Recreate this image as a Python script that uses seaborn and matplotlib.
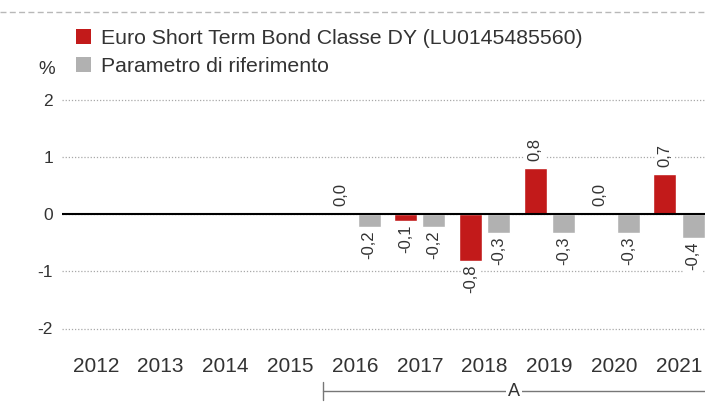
import numpy as np
import pandas as pd
import matplotlib
matplotlib.use("Agg")
import matplotlib.pyplot as plt
import seaborn as sns
from matplotlib.patches import Patch
from matplotlib.lines import Line2D
from matplotlib.transforms import blended_transform_factory

# ---- data ----
years = ["2012", "2013", "2014", "2015", "2016", "2017", "2018", "2019", "2020", "2021"]
fund_name = "Euro Short Term Bond Classe DY (LU0145485560)"
bench_name = "Parametro di riferimento"
fund_values = [np.nan, np.nan, np.nan, np.nan, 0.01, -0.12, -0.82, 0.81, 0.01, 0.70]
bench_values = [np.nan, np.nan, np.nan, np.nan, -0.22, -0.22, -0.33, -0.33, -0.33, -0.42]
y_ticks = [-2, -1, 0, 1, 2]
y_tick_labels = ["-2", "-1", "0", "1", "2"]
period_label = "A"

RED = "#C21A1A"
GREY = "#B1B1B1"
TEXT = "#333333"

df = pd.DataFrame({
    "year": years * 2,
    "value": fund_values + bench_values,
    "series": [fund_name] * len(years) + [bench_name] * len(years),
}).dropna()

sns.set_style("white")
plt.rcParams["font.family"] = ["Liberation Sans", "DejaVu Sans"]
plt.rcParams["axes.unicode_minus"] = False

W, H = 705, 403
fig = plt.figure(figsize=(W / 100, H / 100), dpi=100)

# axes geometry in pixels
ax_left, ax_right = 62, 705
ax_top, ax_bottom = 85, 343
ax = fig.add_axes([ax_left / W, (H - ax_bottom) / H, (ax_right - ax_left) / W, (ax_bottom - ax_top) / H])

sns.barplot(data=df, x="year", y="value", hue="series", order=years,
            hue_order=[fund_name, bench_name], palette=[RED, GREY],
            width=0.87, gap=0.18, ax=ax, legend=False, saturation=1, errorbar=None)

x0, step = 95.8, 64.8
ax.set_xlim((ax_left - x0) / step, (ax_right - x0) / step)
ax.set_ylim(-(ax_bottom - 214) / 57.25, (214 - ax_top) / 57.25)

ax.set_yticks(y_ticks)
ax.set_yticklabels(y_tick_labels)
ax.tick_params(axis="y", length=0, pad=6.5, labelsize=12.5, labelcolor=TEXT)
ax.tick_params(axis="x", length=0, pad=10, labelsize=15, labelcolor=TEXT)
ax.set_xlabel("")
ax.set_ylabel("")
for s in ax.spines.values():
    s.set_visible(False)

ax.set_axisbelow(True)
ax.yaxis.grid(True, linestyle=(0, (1, 1.5)), color="#A8A8A8", linewidth=0.9)
ax.axhline(0, color="black", linewidth=1.5, zorder=3)

box = dict(boxstyle="square,pad=0.15", facecolor="white", edgecolor="none")
for cont in ax.containers:
    pos = [f"{b.get_height():.1f}".replace(".", ",") if b.get_height() >= 0 else "" for b in cont]
    neg = [f"{b.get_height():.1f}".replace(".", ",") if b.get_height() < 0 else "" for b in cont]
    ax.bar_label(cont, labels=pos, rotation=90, padding=5, fontsize=12, color=TEXT, bbox=box)
    ax.bar_label(cont, labels=neg, rotation=90, padding=2.5, fontsize=12, color=TEXT, bbox=box)
for t in ax.texts:
    if t.get_text() == "":
        t.set_bbox(None)

# legend
handles = [Patch(facecolor=RED, edgecolor="none", label=fund_name),
           Patch(facecolor=GREY, edgecolor="none", label=bench_name)]
fig.legend(handles=handles, loc="upper left", bbox_to_anchor=(75.7 / W, (H - 29) / H),
           frameon=False, fontsize=15.3, handlelength=0.7, handleheight=0.7,
           handletextpad=0.5, labelspacing=0.42, borderpad=0, borderaxespad=0,
           labelcolor=TEXT)
fig.text(47 / W, 1 - 69 / H, "%", ha="center", va="center", fontsize=13.5, color=TEXT)

# top dashed line
fig.add_artist(Line2D([0, 1], [1 - 12 / H, 1 - 12 / H], transform=fig.transFigure,
                      color="#B8B8B8", linewidth=1.0, linestyle=(0, (4.3, 2.4))))

# period annotation
tr = blended_transform_factory(ax.transData, fig.transFigure)
xa = 3.5
xr = (ax_right - x0) / step
ax.add_artist(Line2D([xa, xa], [1 - 400 / H, 1 - 381.7 / H], transform=tr, color="#777777",
                     linewidth=1, clip_on=False))
ax.add_artist(Line2D([xa, xr], [1 - 391 / H, 1 - 391 / H], transform=tr, color="#777777",
                     linewidth=1, clip_on=False))
ax.text((xa + xr) / 2, 1 - 391 / H, period_label, transform=tr, ha="center", va="center",
        fontsize=13, color=TEXT, clip_on=False,
        bbox=dict(boxstyle="square,pad=0.1", facecolor="white", edgecolor="none"))

fig.savefig("out.png", dpi=100)
